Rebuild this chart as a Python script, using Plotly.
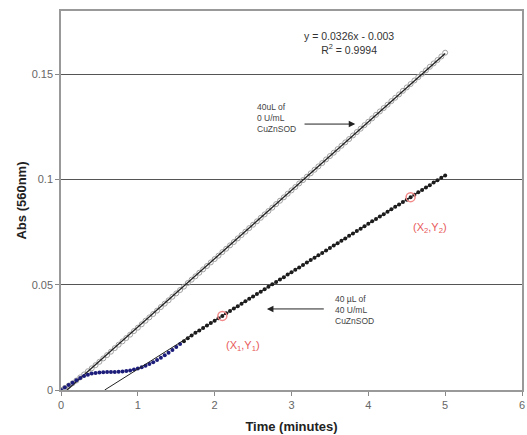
import numpy as np
import plotly.graph_objects as go

# ---- data ----
time_min = [round(i * 0.05, 2) for i in range(101)]

abs_0U = [0.0000, 0.0010, 0.0021, 0.0032, 0.0045, 0.0060, 0.0074, 0.0089, 0.0103, 0.0118,
          0.0134, 0.0150, 0.0166, 0.0182, 0.0199, 0.0215, 0.0231, 0.0247, 0.0263, 0.0280,
          0.0296, 0.0312, 0.0329, 0.0345, 0.0361, 0.0377, 0.0394, 0.0410, 0.0426, 0.0443,
          0.0459, 0.0475, 0.0491, 0.0508, 0.0524, 0.0540, 0.0557, 0.0573, 0.0589, 0.0606,
          0.0622, 0.0638, 0.0655, 0.0671, 0.0687, 0.0703, 0.0720, 0.0736, 0.0752, 0.0769,
          0.0785, 0.0801, 0.0818, 0.0834, 0.0850, 0.0866, 0.0883, 0.0899, 0.0915, 0.0932,
          0.0948, 0.0964, 0.0981, 0.0997, 0.1013, 0.1029, 0.1046, 0.1062, 0.1078, 0.1095,
          0.1111, 0.1127, 0.1144, 0.1160, 0.1176, 0.1192, 0.1209, 0.1225, 0.1241, 0.1258,
          0.1274, 0.1290, 0.1307, 0.1323, 0.1339, 0.1355, 0.1372, 0.1388, 0.1404, 0.1421,
          0.1437, 0.1453, 0.1470, 0.1486, 0.1502, 0.1518, 0.1535, 0.1551, 0.1567, 0.1584,
          0.1602]

abs_40U = [0.0000, 0.0012, 0.0024, 0.0035, 0.0046, 0.0057, 0.0066, 0.0073, 0.0078, 0.0081,
           0.0083, 0.0084, 0.0085, 0.0085, 0.0086, 0.0087, 0.0088, 0.0090, 0.0093, 0.0097,
           0.0102, 0.0108, 0.0115, 0.0123, 0.0132, 0.0142, 0.0153, 0.0165, 0.0177, 0.0190,
           0.0204, 0.0218, 0.0232, 0.0246, 0.0259, 0.0272, 0.0283, 0.0295, 0.0306, 0.0318,
           0.0329, 0.0341, 0.0352, 0.0364, 0.0375, 0.0387, 0.0398, 0.0410, 0.0421, 0.0433,
           0.0444, 0.0456, 0.0467, 0.0479, 0.0490, 0.0502, 0.0513, 0.0525, 0.0536, 0.0548,
           0.0559, 0.0571, 0.0582, 0.0594, 0.0605, 0.0617, 0.0628, 0.0640, 0.0651, 0.0663,
           0.0674, 0.0686, 0.0697, 0.0709, 0.0720, 0.0732, 0.0743, 0.0755, 0.0766, 0.0778,
           0.0789, 0.0801, 0.0812, 0.0824, 0.0835, 0.0847, 0.0858, 0.0870, 0.0881, 0.0893,
           0.0904, 0.0916, 0.0927, 0.0939, 0.0950, 0.0962, 0.0973, 0.0985, 0.0996, 0.1008,
           0.1019]

marked_points_x = [2.10, 4.55]
marked_points_y = [0.0352, 0.0916]
marked_labels = ["(X<sub>1</sub>,Y<sub>1</sub>)", "(X<sub>2</sub>,Y<sub>2</sub>)"]

equation_text = "y = 0.0326x - 0.003<br>R<sup>2</sup> = 0.9994"
note_0U_text = "40uL of<br>0 U/mL<br>CuZnSOD"
note_40U_text = "40 µL of<br>40 U/mL<br>CuZnSOD"

x_ticks = [0, 1, 2, 3, 4, 5, 6]
y_ticks = [0, 0.05, 0.1, 0.15]
y_tick_labels = ["0", "0.05", "0.1", "0.15"]

# ---- fits ----
t = np.array(time_min)
a0 = np.array(abs_0U)
a40 = np.array(abs_40U)
m0, b0 = np.polyfit(t, a0, 1)
sel = t >= 2.0
m40, b40 = np.polyfit(t[sel], a40[sel], 1)
x0_start = -b0 / m0
x40_start = -b40 / m40

FONT = "Liberation Sans, Arial, sans-serif"
fig = go.Figure()

fig.add_trace(go.Scatter(x=time_min, y=abs_0U, mode="markers",
                         marker=dict(symbol="circle-open", size=5, color="#a0a0a0",
                                     line=dict(width=1, color="#a0a0a0")),
                         showlegend=False))
fig.add_trace(go.Scatter(x=[x0_start, t[-1]], y=[0, m0 * t[-1] + b0], mode="lines",
                         line=dict(color="#222222", width=1.3), showlegend=False))

colors40 = ["#1c1c7a" if x < 1.6 else "#1a1a1a" for x in time_min]
fig.add_trace(go.Scatter(x=time_min, y=abs_40U, mode="markers",
                         marker=dict(symbol="circle", size=4, color=colors40),
                         showlegend=False))
fig.add_trace(go.Scatter(x=[x40_start, t[-1]], y=[0, m40 * t[-1] + b40], mode="lines",
                         line=dict(color="#222222", width=1), showlegend=False))
fig.add_trace(go.Scatter(x=marked_points_x, y=marked_points_y, mode="markers",
                         marker=dict(symbol="circle-open", size=9, color="#f28a8a",
                                     line=dict(width=1.5, color="#f28a8a")),
                         showlegend=False))

fig.add_annotation(x=3.75, y=0.1648, xref="x", yref="y", showarrow=False,
                   text=equation_text, align="center",
                   font=dict(family=FONT, size=10.5, color="#333333"))

note_font = dict(family=FONT, size=8.5, color="#444444")
fig.add_annotation(x=2.52, y=0.1294, xref="x", yref="y", showarrow=False,
                   xanchor="left", align="left", text=note_0U_text, font=note_font)
fig.add_annotation(x=3.83, y=0.1263, ax=3.15, ay=0.1263, xref="x", yref="y",
                   axref="x", ayref="y", showarrow=True, arrowhead=2, arrowsize=1.3,
                   arrowwidth=1, arrowcolor="#222222", text="")
fig.add_annotation(x=3.54, y=0.0380, xref="x", yref="y", showarrow=False,
                   xanchor="left", align="left", text=note_40U_text, font=note_font)
fig.add_annotation(x=2.68, y=0.0385, ax=3.44, ay=0.0385, xref="x", yref="y",
                   axref="x", ayref="y", showarrow=True, arrowhead=2, arrowsize=1.3,
                   arrowwidth=1, arrowcolor="#222222", text="")
label_offsets = [(0.27, -0.0143), (0.25, -0.0147)]
for xx, yy, lab, (dx, dy) in zip(marked_points_x, marked_points_y, marked_labels, label_offsets):
    fig.add_annotation(x=xx + dx, y=yy + dy, xref="x", yref="y", showarrow=False, text=lab,
                       font=dict(family=FONT, size=11, color="#e85a5a"))

fig.update_layout(
    width=527, height=435,
    margin=dict(l=61, r=5, t=11, b=45),
    paper_bgcolor="white", plot_bgcolor="white",
    font=dict(family=FONT, size=11, color="#444444"),
)
fig.update_xaxes(range=[0, 6], tickvals=x_ticks, ticks="outside", ticklen=4,
                 tickcolor="#888888", showgrid=False, zeroline=False, automargin=False,
                 showline=True, linecolor="#999999", linewidth=1.5, mirror=True,
                 title=dict(text="<b>Time (minutes)</b>", font=dict(size=13, color="#222222"),
                            standoff=12),
                 tickfont=dict(size=11, color="#666666"))
fig.update_yaxes(range=[0, 0.18], tickvals=y_ticks, ticktext=y_tick_labels,
                 ticks="outside", ticklen=4, tickcolor="#888888", automargin=False,
                 showgrid=True, gridcolor="#555555", gridwidth=1, zeroline=False,
                 showline=True, linecolor="#999999", linewidth=1.5, mirror=True,
                 title=dict(text="<b>Abs (560nm)</b>", font=dict(size=13, color="#222222"),
                            standoff=2),
                 tickfont=dict(size=11, color="#666666"))

fig.write_html("out.html", config={"displayModeBar": False},
               post_script="document.body.style.margin='0';")
